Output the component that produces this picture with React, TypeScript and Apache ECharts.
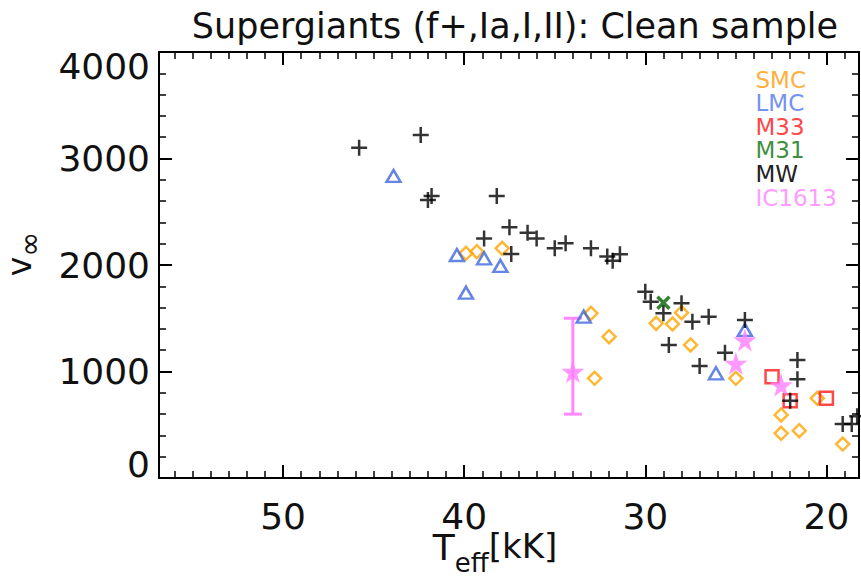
import React, { useEffect, useRef } from 'react';
import * as echarts from 'echarts';

const TITLE = 'Supergiants (f+,Ia,I,II): Clean sample';
const X_MAJOR = [20, 30, 40, 50];
const X_MINOR = [19, 21, 22, 23, 24, 25, 26, 27, 28, 29, 31, 32, 33, 34, 35, 36, 37, 38, 39, 41, 42, 43, 44, 45, 46, 47, 48, 49, 51, 52, 53, 54, 55, 56];
const X_MIN = 18.2;
const X_MAX = 56.85;
const Y_MIN = 0;
const Y_MAX = 4000;
const Y_STEP = 1000;

const SMC_T = [39.9, 39.3, 37.9, 33.0, 32.0, 32.8, 29.4, 28.5, 28.0, 27.5, 25.0, 20.5, 22.5, 22.5, 21.5, 19.1];
const SMC_V = [2110, 2125, 2157, 1546, 1327, 936, 1452, 1446, 1552, 1249, 936, 748, 592, 420, 444, 319];

const LMC_T = [43.9, 40.4, 38.9, 38.0, 39.9, 33.4, 26.1, 24.5];
const LMC_V = [2836, 2094, 2063, 1991, 1740, 1515, 983, 1390];

const M33_T = [23.0, 22.0, 20.0];
const M33_V = [951, 726, 748];

const M31_T = [29.0];
const M31_V = [1646];

const MW_T = [45.8, 42.4, 41.8, 42.0, 38.2, 37.5, 38.9, 36.5, 36.0, 37.4, 35.0, 34.4, 33.0, 32.1, 31.8, 31.4, 30.0, 29.7, 29.0, 28.0, 27.4, 26.5, 28.7, 27.0, 25.6, 24.5, 21.6, 21.6, 22.0, 19.1, 18.6, 18.3];
const MW_V = [3100, 3220, 2648, 2610, 2648, 2354, 2250, 2303, 2250, 2103, 2157, 2204, 2157, 2080, 2040, 2100, 1749, 1655, 1546, 1640, 1468, 1515, 1249, 1052, 1177, 1484, 1108, 927, 726, 507, 507, 580];

const IC_T = [34.0, 24.5, 25.0, 22.5];
const IC_V = [1000, 1296, 1077, 873];
const IC_ERR_T = [34.0];
const IC_ERR_LO = [600];
const IC_ERR_HI = [1500];

const LEGEND_NAMES = ['SMC', 'LMC', 'M33', 'M31', 'MW', 'IC1613'];
const LEGEND_COLORS = ['#ffb040', '#7393ef', '#ff4848', '#3f8f3f', '#222222', '#ff9cff'];

const FONT = '"DejaVu Sans", Verdana, sans-serif';

const zip = (a: number[], b: number[]) => a.map((t, i) => [t, b[i]]);

const PLUS = 'path://M0,6 L12,6 M6,0 L6,12';
const CROSS = 'path://M0,0 L10,10 M10,0 L0,10';
const STAR = 'path://M50,0 L61,35 L98,35 L68,57 L79,91 L50,70 L21,91 L32,57 L2,35 L39,35 Z';

export default function App() {
  const ref = useRef<HTMLDivElement>(null);
  useEffect(() => {
    if (!ref.current) return;
    const chart = echarts.init(ref.current, undefined, { renderer: 'svg' });
    const baseX = {
      type: 'value',
      min: X_MIN,
      max: X_MAX,
      inverse: true,
      splitLine: { show: false },
    };
    const majorTick = { show: true, inside: true, length: 13, lineStyle: { color: '#000', width: 2 } };
    const minorTickX = { show: true, inside: true, length: 7, lineStyle: { color: '#000', width: 1.5 } };
    const option: any = {
      animation: false,
      backgroundColor: '#fff',
      title: {
        text: TITLE,
        left: 510,
        top: 3,
        textAlign: 'center',
        textStyle: { fontFamily: FONT, fontSize: 35, fontWeight: 'normal', color: '#111' },
      },
      legend: {
        orient: 'vertical',
        left: 743,
        top: 63,
        icon: 'rect',
        itemWidth: 0,
        itemHeight: 0,
        itemGap: 0.6,
        selectedMode: false,
        textStyle: { fontFamily: FONT, fontSize: 23, lineHeight: 23 },
        data: LEGEND_NAMES.map((n, i) => ({ name: n, textStyle: { color: LEGEND_COLORS[i] } })),
      },
      grid: { left: 159, right: 2, top: 52, bottom: 101, containLabel: false, outerBoundsMode: 'none' },
      xAxis: [
        {
          ...baseX,
          position: 'bottom',
          axisLine: { show: true, onZero: false, lineStyle: { color: '#000', width: 2 } },
          axisTick: { ...majorTick, customValues: X_MAJOR },
          axisLabel: { customValues: X_MAJOR, fontFamily: FONT, fontSize: 36, color: '#111', margin: 20 },
          name: '{t|T}{s|eff}{u|[kK]}',
          nameLocation: 'middle',
          nameMoveOverlap: false,
          nameGap: 66,
          nameTextStyle: {
            padding: [0, 28, 0, 0],
            rich: {
              t: { fontFamily: FONT, fontSize: 36, lineHeight: 32, color: '#111', verticalAlign: 'bottom', padding: [0, 0, 11, 0] },
              s: { fontFamily: FONT, fontSize: 26, lineHeight: 20, color: '#111', verticalAlign: 'bottom' },
              u: { fontFamily: FONT, fontSize: 34, lineHeight: 32, color: '#111', verticalAlign: 'bottom', padding: [0, 0, 13, 0] },
            },
          },
        },
        {
          ...baseX,
          position: 'bottom',
          axisLine: { show: false, onZero: false },
          axisTick: { ...minorTickX, customValues: X_MINOR },
          axisLabel: { show: false },
        },
        {
          ...baseX,
          position: 'top',
          axisLine: { show: true, onZero: false, lineStyle: { color: '#000', width: 2 } },
          axisTick: { ...majorTick, customValues: X_MAJOR },
          axisLabel: { show: false },
        },
        {
          ...baseX,
          position: 'top',
          axisLine: { show: false, onZero: false },
          axisTick: { ...minorTickX, customValues: X_MINOR },
          axisLabel: { show: false },
        },
      ],
      yAxis: [
        {
          type: 'value',
          position: 'left',
          min: Y_MIN,
          max: Y_MAX,
          interval: Y_STEP,
          splitLine: { show: false },
          axisLine: { show: true, onZero: false, lineStyle: { color: '#000', width: 2 } },
          axisTick: majorTick,
          minorTick: { show: true, splitNumber: 5, length: 7, lineStyle: { color: '#000', width: 1.5 } },
          axisLabel: {
            fontFamily: FONT,
            fontSize: 36,
            lineHeight: 28,
            color: '#111',
            margin: 9,
            formatter: (v: number) => String(v),
            verticalAlignMinLabel: 'bottom',
            verticalAlignMaxLabel: 'top',
          },
          name: '{v|v}{s|∞}',
          nameLocation: 'middle',
          nameRotate: 90,
          nameGap: 115,
          nameTextStyle: {
            padding: [0, 0, 0, 22],
            rich: {
              v: { fontFamily: FONT, fontSize: 33, color: '#111', verticalAlign: 'bottom', padding: [0, 0, 8, 0] },
              s: { fontFamily: FONT, fontSize: 30, color: '#111', verticalAlign: 'bottom' },
            },
          },
        },
        {
          type: 'value',
          position: 'right',
          min: Y_MIN,
          max: Y_MAX,
          interval: Y_STEP,
          splitLine: { show: false },
          axisLine: { show: true, onZero: false, lineStyle: { color: '#000', width: 2 } },
          axisTick: majorTick,
          minorTick: { show: true, splitNumber: 5, length: 7, lineStyle: { color: '#000', width: 1.5 } },
          axisLabel: { show: false },
        },
      ],
      series: [
        {
          name: 'SMC',
          type: 'scatter',
          symbol: 'diamond',
          symbolSize: 13,
          clip: false,
          data: zip(SMC_T, SMC_V),
          itemStyle: { color: 'transparent', borderColor: '#ffa500', borderWidth: 2.5 },
        },
        {
          name: 'LMC',
          type: 'scatter',
          symbol: 'triangle',
          symbolSize: [14, 12],
          clip: false,
          data: zip(LMC_T, LMC_V),
          itemStyle: { color: 'transparent', borderColor: '#3e66dd', borderWidth: 2.5 },
        },
        {
          name: 'M33',
          type: 'scatter',
          symbol: 'rect',
          symbolSize: 13,
          clip: false,
          data: zip(M33_T, M33_V),
          itemStyle: { color: 'transparent', borderColor: '#ff1a1a', borderWidth: 2.5 },
        },
        {
          name: 'M31',
          type: 'scatter',
          symbol: CROSS,
          symbolSize: 12,
          clip: false,
          data: zip(M31_T, M31_V),
          itemStyle: { color: 'none', borderColor: '#006400', borderWidth: 3.5 },
        },
        {
          name: 'MW',
          type: 'scatter',
          symbol: PLUS,
          symbolSize: 16,
          clip: false,
          data: zip(MW_T, MW_V),
          itemStyle: { color: 'none', borderColor: '#000', borderWidth: 2.5 },
        },
        {
          name: 'IC1613 err',
          type: 'custom',
          clip: false,
          data: IC_ERR_T.map((t, i) => [t, IC_ERR_LO[i], IC_ERR_HI[i]]),
          renderItem: (params: any, api: any) => {
            const lo = api.coord([api.value(0), api.value(1)]);
            const hi = api.coord([api.value(0), api.value(2)]);
            const w = 9;
            const style = { stroke: '#ff88ff', lineWidth: 3 };
            return {
              type: 'group',
              children: [
                { type: 'line', shape: { x1: lo[0], y1: lo[1], x2: hi[0], y2: hi[1] }, style },
                { type: 'line', shape: { x1: lo[0] - w, y1: lo[1], x2: lo[0] + w, y2: lo[1] }, style },
                { type: 'line', shape: { x1: hi[0] - w, y1: hi[1], x2: hi[0] + w, y2: hi[1] }, style },
              ],
            };
          },
        },
        {
          name: 'IC1613',
          type: 'scatter',
          symbol: STAR,
          symbolSize: 23,
          clip: false,
          data: zip(IC_T, IC_V),
          itemStyle: { color: '#ff80ff', borderWidth: 0 },
        },
      ],
    };
    chart.setOption(option);
    return () => chart.dispose();
  }, []);
  return <div ref={ref} style={{ position: 'fixed', left: 0, top: 0, width: 861, height: 579, background: '#fff' }} />;
}
